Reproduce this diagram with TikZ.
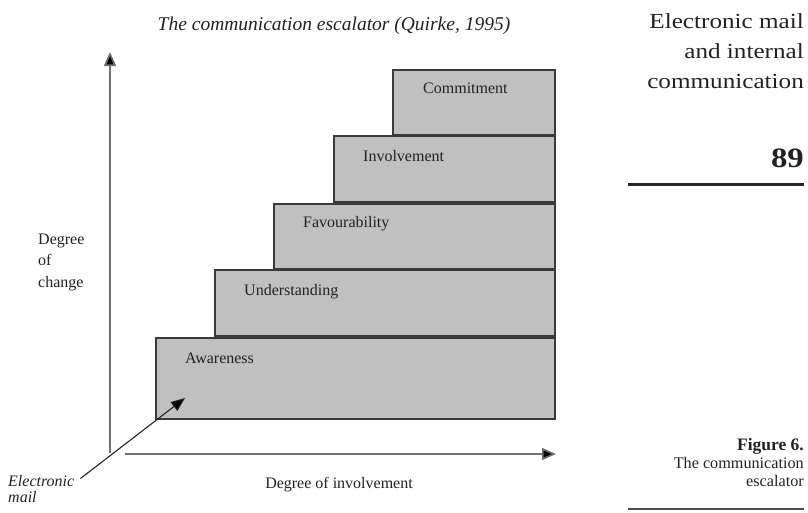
\documentclass[tikz,border=0pt]{standalone}
\usepackage{fontspec}
\setmainfont{Liberation Serif}
\newfontfamily\wideserif[FakeStretch=1.17]{Liberation Serif}
\usetikzlibrary{arrows.meta}
\definecolor{ink}{HTML}{222222}
\definecolor{stepfill}{HTML}{C0C0C0}
\definecolor{stepline}{HTML}{3A3A3A}
\definecolor{axisline}{HTML}{707070}
\tikzset{
  stepbox/.style={draw=stepline, line width=1.8pt, fill=stepfill, inner sep=0pt, anchor=north west},
  steplabel/.style={anchor=base west, inner sep=0pt, text=ink, font=\fontsize{16}{18}\selectfont},
  plain/.style={inner sep=0pt, text=ink, font=\fontsize{16}{18}\selectfont},
  axis/.style={draw=axisline, line width=1.6pt, -{Triangle[length=14pt,width=12pt,fill=black]}},
  ptr/.style={draw=ink, line width=1.1pt, -{Triangle[length=14pt,width=11pt,fill=black]}},
  sidetext/.style={anchor=base east, inner sep=0pt, text=ink},
}
\begin{document}
\begin{tikzpicture}[x=1pt, y=-1pt]
  \useasboundingbox (0,0) rectangle (808,512);

  % title
  \node[plain, anchor=base, font=\fontsize{19.5}{22}\selectfont\itshape] (title) at (334,30)
    {The communication escalator (Quirke, 1995)};

  % escalator steps, lowest first
  \node[stepbox, minimum width=399pt, minimum height=81pt] (aware) at (155,337) {};
  \node[stepbox, minimum width=340pt, minimum height=66pt] (under) at (214,269) {};
  \node[stepbox, minimum width=281pt, minimum height=65pt] (favour) at (273,203) {};
  \node[stepbox, minimum width=221pt, minimum height=66pt] (involve) at (333,135) {};
  \node[stepbox, minimum width=162pt, minimum height=65pt] (commit) at (392,69) {};

  \node[steplabel] (lAware)   at ([xshift=30pt,yshift=-26pt]aware.north west)   {Awareness};
  \node[steplabel] (lUnder)   at ([xshift=30pt,yshift=-26pt]under.north west)   {Understanding};
  \node[steplabel] (lFavour)  at ([xshift=30pt,yshift=-24pt]favour.north west)  {Favourability};
  \node[steplabel] (lInvolve) at ([xshift=30pt,yshift=-26pt]involve.north west) {Involvement};
  \node[steplabel] (lCommit)  at ([xshift=31pt,yshift=-24pt]commit.north west)  {Commitment};

  % axes
  \coordinate (yFoot) at (110,453);
  \coordinate (yHead) at (110,52);
  \coordinate (xFoot) at (125,454);
  \coordinate (xHead) at (556,454);
  \draw[axis] (yFoot) -- (yHead);
  \draw[axis] (xFoot) -- (xHead);

  \node[plain, anchor=west, align=left, font=\fontsize{16}{21.5}\selectfont] (ylab) at (38,262)
    {Degree\\of\\change};
  \node[plain, anchor=base] (xlab) at (339,488) {Degree of involvement};

  % electronic mail entry point
  \node[plain, anchor=base west, font=\fontsize{16}{18}\selectfont\itshape] (emA) at (8,486) {Electronic};
  \node[plain, anchor=base west, font=\fontsize{16}{18}\selectfont\itshape] (emB) at (8,502) {mail};
  \coordinate (emTip) at (185,398);
  \draw[ptr] ([xshift=6pt,yshift=2pt]emA.east) -- (emTip);

  % running head and page number
  \node[sidetext, font=\fontsize{21.5}{24}\wideserif] (rh1) at (804,28) {Electronic mail};
  \node[sidetext, font=\fontsize{21.5}{24}\wideserif] (rh2) at (804,58.5) {and internal};
  \node[sidetext, font=\fontsize{21.5}{24}\wideserif] (rh3) at (804,88) {communication};
  \node[sidetext, font=\fontsize{28}{30}\wideserif\bfseries] (page) at (804,167) {89};
  \coordinate (ruleTopL) at (628,184.5);
  \coordinate (ruleTopR) at (804,184.5);
  \draw[line width=3.6pt, draw=black!85] (ruleTopL) -- (ruleTopR);

  % figure caption
  \node[sidetext, font=\fontsize{17.5}{20}\selectfont\bfseries] (cap1) at (804,450) {Figure 6.};
  \node[sidetext, font=\fontsize{16.2}{18}\selectfont] (cap2) at (804,468) {The communication};
  \node[sidetext, font=\fontsize{16.2}{18}\selectfont] (cap3) at (804,486) {escalator};
  \coordinate (ruleBotL) at (628,509);
  \coordinate (ruleBotR) at (804,509);
  \draw[line width=1.2pt, draw=black!70] (ruleBotL) -- (ruleBotR);
\end{tikzpicture}
\end{document}
